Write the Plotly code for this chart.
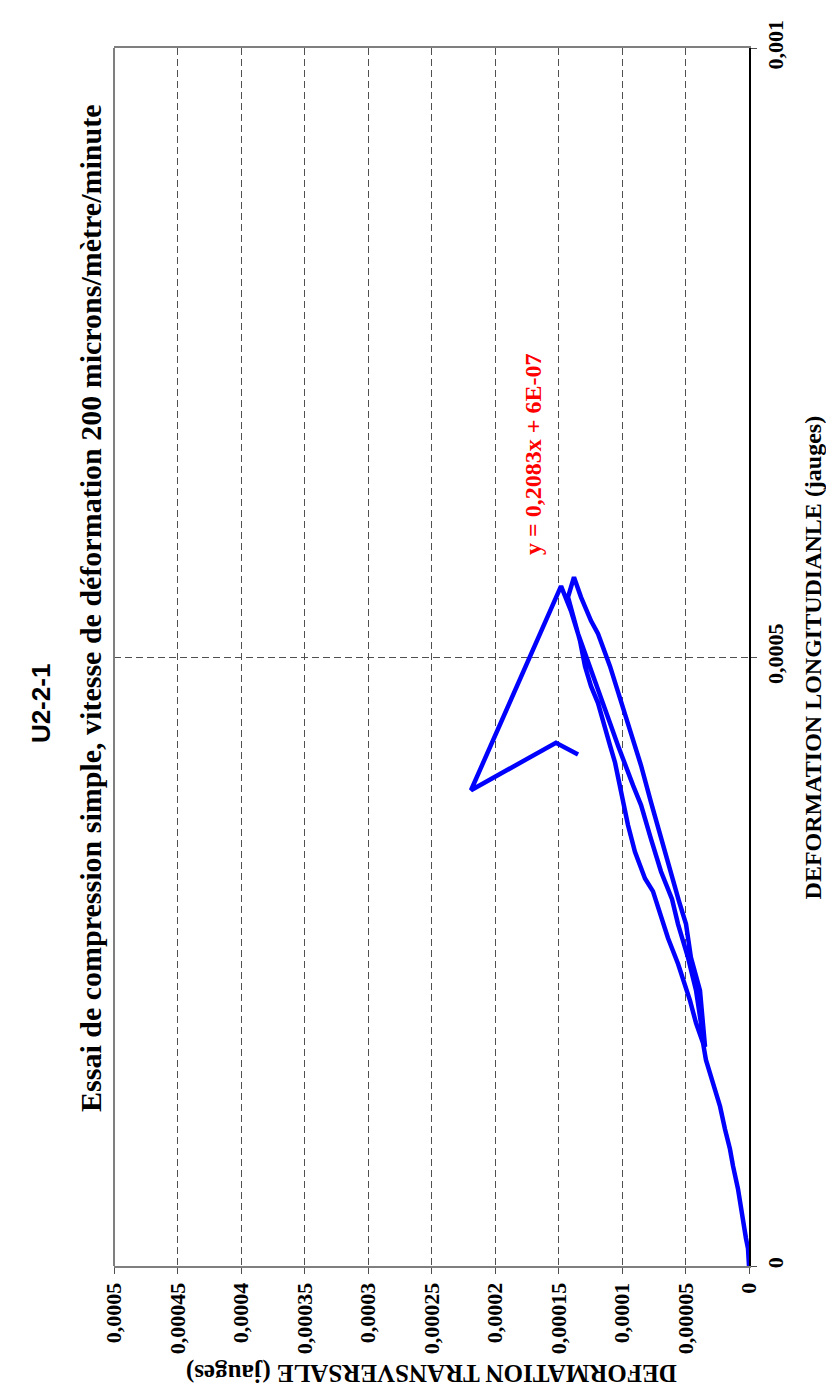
import plotly.graph_objects as go

# Transversal deformation (horizontal axis of the rotated picture) and
# longitudinal deformation (vertical axis)
transversale = [
    0.0, 0.0000008, 0.0000024, 0.0000047, 0.0000087, 0.0000126, 0.0000150, 0.0000189,
    0.0000228, 0.0000268, 0.0000307, 0.0000339, 0.0000362,
    0.0000417, 0.0000465, 0.0000504, 0.0000559, 0.0000638, 0.0000701, 0.0000756, 0.0000819,
    0.0000898, 0.0000953, 0.0000992, 0.0001016, 0.0001055, 0.0001094, 0.0001150, 0.0001189,
    0.0001244, 0.0001291, 0.0001331, 0.0001370, 0.0001402, 0.0001425,
    0.0001378,
    0.0001323, 0.0001244, 0.0001189, 0.0001094, 0.0001008, 0.0000953, 0.0000850, 0.0000772,
    0.0000693, 0.0000614, 0.0000551, 0.0000496, 0.0000457, 0.0000386, 0.0000362, 0.0000346,
    0.0000378, 0.0000417, 0.0000480, 0.0000559, 0.0000606, 0.0000693, 0.0000772, 0.0000850,
    0.0000913, 0.0000976, 0.0001031, 0.0001087, 0.0001150, 0.0001213, 0.0001283, 0.0001346,
    0.0001402, 0.0001449, 0.0001480,
    0.0002189, 0.0001520, 0.0001346,
]
longitudinale = [
    0.0, 0.0000146, 0.0000228, 0.0000391, 0.0000635, 0.0000822, 0.0000960, 0.0001123,
    0.0001310, 0.0001448, 0.0001587, 0.0001692, 0.0001831,
    0.0001994, 0.0002181, 0.0002319, 0.0002482, 0.0002693, 0.0002913, 0.0003076, 0.0003182,
    0.0003401, 0.0003621, 0.0003808, 0.0003946, 0.0004134, 0.0004272, 0.0004483, 0.0004622,
    0.0004760, 0.0004923, 0.0005134, 0.0005297, 0.0005411, 0.0005492,
    0.0005655,
    0.0005492, 0.0005297, 0.0005191, 0.0004923, 0.0004646, 0.0004459, 0.0004109, 0.0003808,
    0.0003507, 0.0003239, 0.0002994, 0.0002807, 0.0002531, 0.0002262, 0.0001994, 0.0001798,
    0.0001994, 0.0002262, 0.0002531, 0.0002807, 0.0003011, 0.0003239, 0.0003507, 0.0003784,
    0.0003946, 0.0004109, 0.0004272, 0.0004435, 0.0004622, 0.0004785, 0.0005004, 0.0005191,
    0.0005379, 0.0005517, 0.0005582,
    0.0003906, 0.0004296, 0.0004199,
]

trans_ticks = [0, 0.00005, 0.0001, 0.00015, 0.0002, 0.00025, 0.0003, 0.00035, 0.0004, 0.00045, 0.0005]
trans_labels = ["0", "0,00005", "0,0001", "0,00015", "0,0002", "0,00025", "0,0003",
                "0,00035", "0,0004", "0,00045", "0,0005"]
long_ticks = [0, 0.0005, 0.001]
long_labels = ["0", "0,0005", "0,001"]

title = "U2-2-1"
subtitle = "Essai de compression simple, vitesse de déformation 200 microns/mètre/minute"
x_title = "DEFORMATION TRANSVERSALE (jauges)"
y_title = "DEFORMATION LONGITUDIANLE (jauges)"
equation = "y = 0,2083x + 6E-07"

SERIF = "Liberation Serif, Times New Roman, serif"
SANS = "Liberation Sans, Arial, sans-serif"
GRID = "#505050"

fig = go.Figure()
fig.add_trace(go.Scatter(
    x=transversale, y=longitudinale, mode="lines",
    line=dict(color="#0000FF", width=4.5), hoverinfo="skip",
))

tickfont = dict(family=SERIF, size=22, color="black", weight="bold")

fig.update_layout(
    width=834, height=1393,
    margin=dict(l=106, r=93, t=29, b=135),
    plot_bgcolor="white", paper_bgcolor="white",
    showlegend=False,
    xaxis=dict(
        range=[0.0005, 0], tickvals=trans_ticks, ticktext=trans_labels,
        tickangle=-90, tickfont=tickfont, ticklabeloverflow="allow",
        showgrid=True, gridcolor=GRID, griddash="7px,4px", gridwidth=1,
        showline=True, linecolor="#7f7f7f", linewidth=2, mirror=True,
        ticks="outside", ticklen=6, tickcolor="#505050",
        zeroline=False, fixedrange=True,
    ),
    yaxis=dict(
        range=[0, 0.001], side="right", tickvals=long_ticks, ticktext=long_labels,
        tickangle=-90, tickfont=tickfont, ticklabeloverflow="allow",
        showgrid=True, gridcolor=GRID, griddash="7px,4px", gridwidth=1,
        showline=True, linecolor="black", linewidth=2,
        ticks="outside", ticklen=6, tickcolor="#505050",
        zeroline=False, fixedrange=True,
    ),
    shapes=[dict(type="line", xref="paper", yref="paper", x0=0, x1=0, y0=0, y1=1,
                 line=dict(color="#7f7f7f", width=2))],
    annotations=[
        dict(text=f"<b>{title}</b>", xref="paper", yref="paper", x=-0.142, y=0.462,
             textangle=-90, showarrow=False, font=dict(family=SANS, size=26, color="black")),
        dict(text=f"<b>{subtitle}</b>", xref="paper", yref="paper", x=-0.066, y=0.955,
             yanchor="top", textangle=-90, showarrow=False,
             font=dict(family=SERIF, size=30, color="black")),
        dict(text=f"<b>{y_title}</b>", xref="paper", yref="paper", x=1.125, y=0.50,
             textangle=-90, showarrow=False, font=dict(family=SERIF, size=24, color="black")),
        dict(text=f"<b>{x_title}</b>", xref="paper", yref="paper", x=0.499, y=-0.101,
             textangle=180, showarrow=False, font=dict(family=SERIF, size=25, color="black")),
        dict(text=f"<b>{equation}</b>", xref="paper", yref="paper", x=0.660, y=0.666,
             textangle=-90, showarrow=False, font=dict(family=SERIF, size=24, color="#FF0000")),
    ],
)

fig.write_html("out.html")
